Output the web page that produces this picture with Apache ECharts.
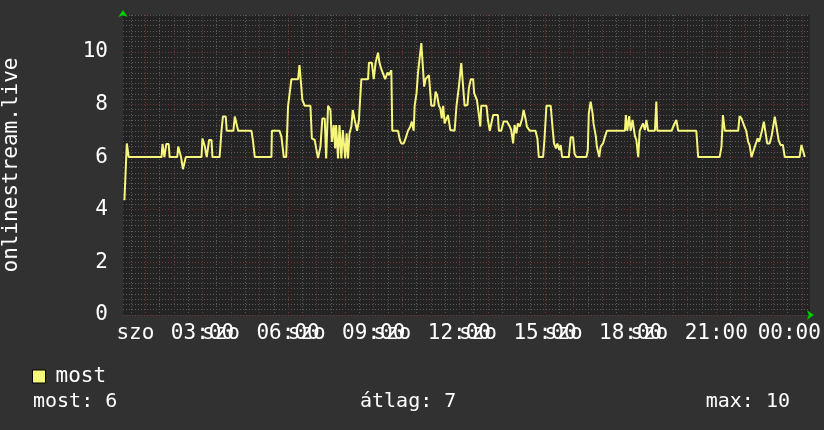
<!DOCTYPE html>
<html>
<head>
<meta charset="utf-8">
<script src="https://cdn.jsdelivr.net/npm/echarts@6/dist/echarts.min.js"></script>
<style>
  html, body { margin: 0; padding: 0; background: #313131; }
  #chart { width: 824px; height: 430px; }
</style>
</head>
<body>
<div id="chart"></div>
<script>
// minutes since szo 00:00
const times = [16,21,25,94,96,98,100,104,109,111,127,129,132,135,139,143,145,178,180,182,185,189,194,199,201,216,220,223,229,231,245,248,252,255,283,286,290,325,326,342,346,351,356,360,367,381,384,388,390,395,407,410,416,419,423,428,432,437,440,444,449,452,456,459,461,465,468,472,475,480,483,486,489,493,496,500,505,509,510,514,528,530,536,540,544,549,552,556,559,564,569,572,577,579,591,595,598,603,607,612,617,620,624,626,630,633,637,640,643,646,649,653,656,659,661,667,670,673,677,680,683,686,689,696,701,710,714,719,724,728,731,737,740,744,749,751,754,757,761,764,766,777,780,784,791,801,803,808,813,820,826,829,833,836,840,843,847,852,855,859,862,868,880,884,887,896,899,903,912,916,919,923,926,930,933,936,950,954,959,962,966,987,990,992,996,1000,1002,1007,1009,1014,1017,1022,1026,1030,1068,1070,1073,1077,1080,1084,1089,1092,1096,1099,1103,1106,1110,1113,1117,1131,1134,1136,1166,1171,1176,1180,1218,1222,1267,1271,1274,1278,1306,1309,1313,1318,1323,1327,1330,1334,1337,1341,1347,1350,1353,1356,1360,1363,1367,1372,1376,1379,1383,1386,1391,1395,1400,1404,1435,1439,1442,1446];
const most = [4.36,6.52,6,6,6.5,6.5,6,6.5,6.5,6,6,6.4,6.4,6,5.54,5.54,6,6,6.71,6.71,6.4,6,6.65,6.65,6,6,7,7.54,7.54,7,7,7.54,7.54,7,7,6.65,6,6,7,7,6.77,6,6,7.95,8.96,8.96,9.5,9.5,8.17,7.95,7.95,6.71,6.65,6.33,5.96,6.4,7.47,7.47,5.95,7.95,7.79,6.58,7.22,6.33,7.22,5.95,7.22,5.95,7.03,5.95,6.9,5.95,6.9,7.16,7.79,7.41,7,7.41,7.77,8.96,8.96,9.59,9.59,8.96,9.59,9.97,9.59,9.34,9.34,8.96,9.21,9.12,9.3,7,7,6.65,6.52,6.52,6.71,7,7.16,7.35,7,7.95,8.43,9.19,9.19,10.33,10.33,8.68,8.96,8.96,9.12,9.12,7.95,7.95,8.49,8.36,7.95,7.85,7.47,7.95,7.28,7.6,7.03,7,7.95,8.68,9.57,9.57,7.95,7.98,8.62,8.96,8.96,8.43,8.43,8.17,7.6,7.16,7.95,7.95,7.41,7,7.6,7.6,7,7,7.35,7.35,7.16,7.03,6.52,7.22,6.9,7.28,7.16,7.47,7.79,7.47,7.16,7,7,6.71,6,6,6.71,7.95,7.95,7.09,6.52,6.33,6.52,6.27,6.46,6,6,6.75,6.75,6.14,6,6,6.27,7.66,8.11,7.66,7.28,6.77,6.4,6,6.4,6.52,6.77,7,7,7.6,7,7.56,7,7.41,6.8,6.65,6,7,7,7.28,7.03,7.41,7,7,8.11,7,7,7.22,7.41,7,7,6,6,6.4,7.6,7,7,7.56,7.47,7.22,7,6.58,6.46,6,6,6.4,6.71,6.58,6.77,7,7.35,7,6.52,6.52,6.77,7.09,7.54,7.51,6.65,6.46,6.46,6,6,6.46,6.46,6];

const labelHours = [3, 6, 9, 12, 15, 18, 21, 24];
const dayHours = [3, 6, 9, 12, 15, 18, 21];
const dayName = 'szo';

// stats
const last = most[most.length - 1];
let area = 0;
for (let i = 1; i < times.length; i++) {
  area += (most[i] + most[i - 1]) / 2 * (times[i] - times[i - 1]);
}
const avg = area / (times[times.length - 1] - times[0]);
const max = Math.max(...most);

const FONT = 'DejaVu Sans Mono';
const gridGray = '#5a5a5a';
const gridRed = '#763434';
const xMin = 13, xMax = 1457;

const halfHours = [];
for (let m = 30; m <= 1440; m += 30) halfHours.push(m);

const chart = echarts.init(document.getElementById('chart'));

const option = {
  backgroundColor: '#313131',
  animation: false,
  grid: {
    left: 123, right: 14, top: 15, bottom: 115,
    containLabel: false,
    outerBoundsMode: 'none',
    show: true, backgroundColor: '#232323', borderWidth: 0
  },
  legend: {
    data: ['most'],
    left: 27, top: 361,
    icon: 'rect', itemWidth: 13, itemHeight: 13, itemGap: 16,
    itemStyle: { borderColor: '#000', borderWidth: 1 },
    textStyle: { color: '#fff', fontFamily: FONT, fontSize: 21, padding: [0, 0, 0, 5] }
  },
  xAxis: [{
    type: 'value',
    min: xMin, max: xMax,
    axisLine: {
      show: true, onZero: false,
      symbol: ['none', 'arrow'], symbolSize: [7, 7], symbolOffset: [0, 4],
      lineStyle: { color: '#00cc00', width: 0 }
    },
    axisTick: { show: false, customValues: halfHours },
    splitLine: {
      show: true,
      lineStyle: { color: [gridGray, gridRed], type: [1, 2], width: 1 }
    },
    axisLabel: {
      customValues: labelHours.map(h => h * 60),
      showMinLabel: true, showMaxLabel: true, hideOverlap: false,
      color: '#fff', fontFamily: FONT, fontSize: 21, margin: 8,
      formatter: v => {
        const h = Math.round(v / 60);
        if (h === 24) return '00:00  ';
        return String(h).padStart(2, '0') + ':00';
      }
    }
  }, {
    // day names, drawn left of each time label
    type: 'value',
    position: 'bottom',
    min: xMin, max: xMax,
    axisLine: { show: false },
    axisTick: { show: false },
    splitLine: { show: false },
    axisLabel: {
      customValues: dayHours.map(h => h * 60 - 141),
      showMinLabel: true, showMaxLabel: true, hideOverlap: false,
      color: '#fff', fontFamily: FONT, fontSize: 21, margin: 8,
      formatter: () => dayName
    }
  }],
  yAxis: {
    type: 'value',
    min: 0, max: 11.4, interval: 0.2,
    name: 'onlinestream.live',
    nameLocation: 'middle', nameRotate: 90, nameGap: 101,
    nameTextStyle: { color: '#fff', fontFamily: FONT, fontSize: 21 },
    axisLine: {
      show: true,
      symbol: ['none', 'arrow'], symbolSize: [7, 7], symbolOffset: [0, 5],
      lineStyle: { color: '#00cc00', width: 0 }
    },
    axisTick: { show: false },
    splitLine: {
      show: true,
      lineStyle: {
        color: [gridRed, gridGray, gridGray, gridGray, gridGray, gridGray, gridGray, gridGray, gridGray, gridGray],
        type: [1, 2], width: 1
      }
    },
    axisLabel: {
      color: '#fff', fontFamily: FONT, fontSize: 21, margin: 15,
      showMaxLabel: false, hideOverlap: false,
      formatter: v => {
        const r = Math.round(v);
        return (Math.abs(v - r) < 1e-6 && r % 2 === 0) ? String(r) : '';
      }
    }
  },
  graphic: [
    { type: 'text', left: 33, top: 392, style: { text: 'most: ' + last.toFixed(0), fill: '#fff', font: '20px "DejaVu Sans Mono"' } },
    { type: 'text', left: 360, top: 392, style: { text: 'átlag: ' + avg.toFixed(0), fill: '#fff', font: '20px "DejaVu Sans Mono"' } },
    { type: 'text', right: 34, top: 392, style: { text: 'max: ' + max.toFixed(0), fill: '#fff', font: '20px "DejaVu Sans Mono"' } }
  ],
  series: [{
    name: 'most',
    type: 'line',
    data: times.map((t, i) => [t, most[i]]),
    showSymbol: false,
    color: '#f6f67c',
    lineStyle: { color: '#f6f67c', width: 2 }
  }]
};

chart.setOption(option);
</script>
</body>
</html>
